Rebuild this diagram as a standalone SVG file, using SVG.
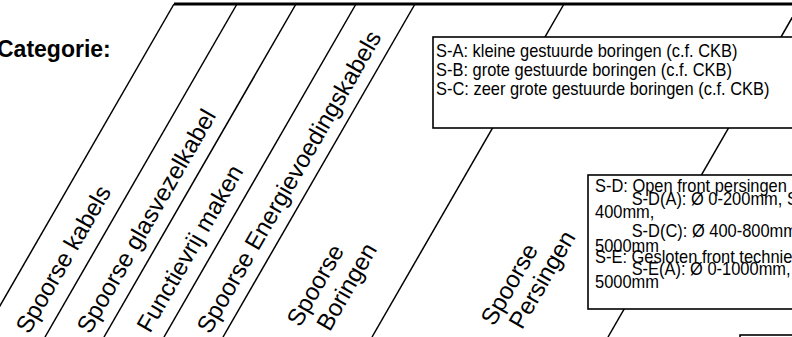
<svg xmlns="http://www.w3.org/2000/svg" width="792" height="337" viewBox="0 0 792 337">
<style>
.ln{stroke:#000;stroke-width:1.5;fill:none}
.top{stroke:#000;stroke-width:3;fill:none}
.box{fill:#fff;stroke:#000;stroke-width:1.6}
.lbl{font-family:"Liberation Sans",Arial,sans-serif;font-size:24px;fill:#000}
.bt{font-family:"Liberation Sans",Arial,sans-serif;font-size:17.5px;fill:#000}
.hd{font-family:"Liberation Sans",Arial,sans-serif;font-size:23px;font-weight:bold;fill:#000}
</style>
<rect width="792" height="337" fill="#fff"/>
<g id="connectors">
<line class="top" x1="174" y1="4" x2="800" y2="4"/>
<line class="ln" x1="174" y1="4" x2="-18" y2="337"/>
<line class="ln" x1="237" y1="4" x2="45" y2="337"/>
<line class="ln" x1="296" y1="4" x2="104" y2="337"/>
<line class="ln" x1="356" y1="4" x2="164" y2="337"/>
<line class="ln" x1="415" y1="4" x2="223" y2="337"/>
<line class="ln" x1="564" y1="4" x2="372" y2="337"/>
<line class="ln" x1="800" y1="4" x2="608" y2="337"/>
</g>
<g id="title"><text class="hd" x="-3" y="57">Categorie:</text></g>
<g id="label-kabels"><text class="lbl" transform="translate(29,335) rotate(-60)">Spoorse kabels</text></g>
<g id="label-glasvezel"><text class="lbl" transform="translate(90,335) rotate(-60)">Spoorse glasvezelkabel</text></g>
<g id="label-functievrij"><text class="lbl" transform="translate(150,334) rotate(-60)">Functievrij maken</text></g>
<g id="label-energie"><text class="lbl" transform="translate(210,335) rotate(-60)">Spoorse Energievoedingskabels</text></g>
<g id="label-boringen"><text class="lbl" transform="translate(300,328) rotate(-60)"><tspan x="0" y="0">Spoorse</tspan><tspan x="11" y="28">Boringen</tspan></text></g>
<g id="label-persingen"><text class="lbl" transform="translate(494,327) rotate(-60)"><tspan x="0" y="0">Spoorse</tspan><tspan x="11" y="26">Persingen</tspan></text></g>
<g id="box-boringen">
<rect class="box" x="433" y="37" width="400" height="91"/>
<g transform="translate(436,0) scale(0.94,1)">
<text class="bt" x="0" y="57">S-A: kleine gestuurde boringen (c.f. CKB)</text>
<text class="bt" x="0" y="76">S-B: grote gestuurde boringen (c.f. CKB)</text>
<text class="bt" x="0" y="95">S-C: zeer grote gestuurde boringen (c.f. CKB)</text>
</g>
</g>
<g id="box-persingen">
<rect class="box" x="588" y="175" width="250" height="134"/>
<g transform="translate(595,0) scale(0.94,1)">
<text class="bt" x="0" y="192">S-D: Open front persingen</text>
<text class="bt" x="39" y="205">S-D(A): Ø 0-200mm, S</text>
<text class="bt" x="0" y="218">400mm,</text>
<text class="bt" x="39" y="237">S-D(C): Ø 400-800mm</text>
<text class="bt" x="0" y="252">5000mm</text>
<text class="bt" x="0" y="263">S-E: Gesloten front technie</text>
<text class="bt" x="39" y="275">S-E(A): Ø 0-1000mm,</text>
<text class="bt" x="0" y="288">5000mm</text>
</g>
</g>
<g id="box-extra"><rect class="box" x="740" y="335" width="80" height="40"/></g>
</svg>
